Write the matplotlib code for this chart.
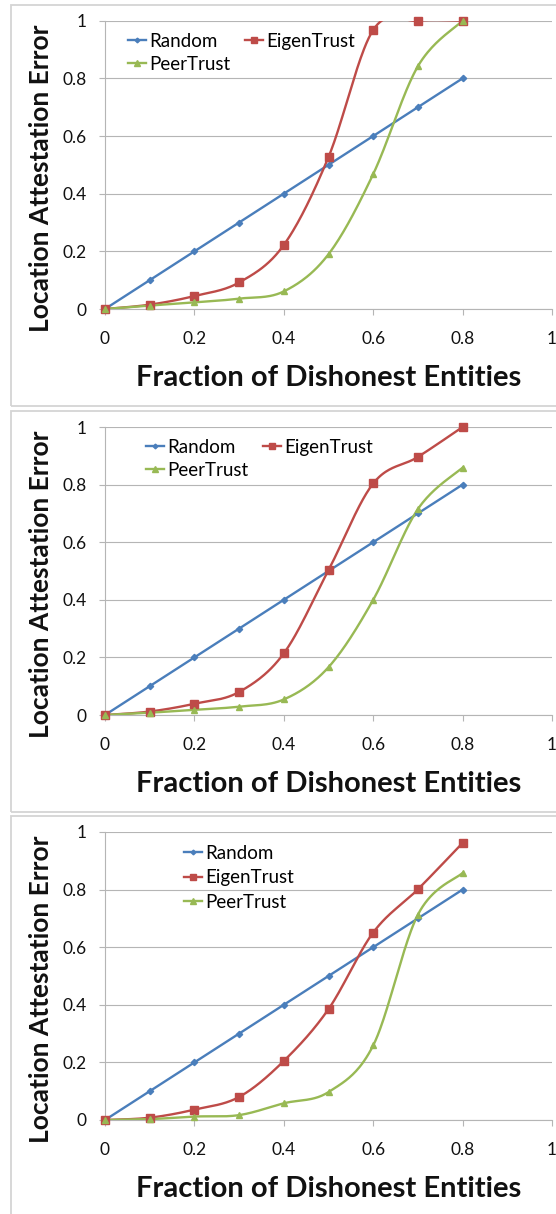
import numpy as np
import matplotlib
matplotlib.use('Agg')
import matplotlib.pyplot as plt
from matplotlib.patches import Rectangle
from matplotlib.lines import Line2D

# fraction of dishonest entities
frac = [0, 0.1, 0.2, 0.3, 0.4, 0.5, 0.6, 0.7, 0.8]

# location attestation error, one list per scenario
random_err = [0, 0.1, 0.2, 0.3, 0.4, 0.5, 0.6, 0.7, 0.8]

eigen_a = [0, 0.015, 0.045, 0.092, 0.222, 0.527, 0.968, 1.0, 1.0]
peer_a  = [0, 0.012, 0.023, 0.036, 0.061, 0.19, 0.468, 0.842, 1.0]

eigen_b = [0, 0.012, 0.039, 0.08, 0.214, 0.503, 0.804, 0.896, 1.0]
peer_b  = [0, 0.008, 0.018, 0.029, 0.054, 0.166, 0.4, 0.715, 0.859]

eigen_c = [0, 0.008, 0.036, 0.08, 0.205, 0.385, 0.651, 0.801, 0.962]
peer_c  = [0, 0.003, 0.012, 0.017, 0.058, 0.097, 0.259, 0.713, 0.858]

x_ticks = [0, 0.2, 0.4, 0.6, 0.8, 1]
y_ticks = [0, 0.2, 0.4, 0.6, 0.8, 1]

W, H = 556, 1214
plt.rcParams['font.family'] = ['Lato', 'DejaVu Sans']

BLUE, RED, GREEN = '#4a7ebb', '#be4b48', '#98b954'
GRID = '#b5b5b5'


def smooth(x, y, n=40):
    # excel style smoothed line: bezier segments through every point
    p = np.column_stack([x, y]).astype(float)
    q = np.vstack([p[0], p, p[-1]])
    t = np.linspace(0, 1, n)[:, None]
    out = []
    for i in range(len(p) - 1):
        p0, p1, p2, p3 = q[i], q[i + 1], q[i + 2], q[i + 3]
        c1 = p1 + (p2 - p0) / 6
        c2 = p2 - (p3 - p1) / 6
        seg = (1 - t)**3 * p1 + 3 * (1 - t)**2 * t * c1 + 3 * (1 - t) * t**2 * c2 + t**3 * p2
        out.append(seg if i == 0 else seg[1:])
    s = np.vstack(out)
    return s[:, 0], s[:, 1]


def fx(px):
    return px / W


def fy(py):
    return 1 - py / H


fig = plt.figure(figsize=(W / 100, H / 100), dpi=100)

panels = [
    dict(top=20.7, bot=309, frame=(5, 406), eig=eigen_a, peer=peer_a,
         leg_x=128, leg_y=44, ncol=2),
    dict(top=427, bot=715, frame=(411, 812), eig=eigen_b, peer=peer_b,
         leg_x=146, leg_y=450, ncol=2),
    dict(top=832, bot=1120, frame=(816, 1240), eig=eigen_c, peer=peer_c,
         leg_x=184, leg_y=856, ncol=1),
]

left, right = 105, 552

for p in panels:
    ftop, fbot = p['frame']
    fig.patches.append(Rectangle((fx(10.6), fy(fbot)), fx(700), fy(ftop) - fy(fbot),
                                 transform=fig.transFigure, fill=False,
                                 edgecolor='#d4d4d4', linewidth=1.3))

    ax = fig.add_axes([fx(left), fy(p['bot']), fx(right - left), fy(p['top']) - fy(p['bot'])])
    ax.set_xlim(0, 1)
    ax.set_ylim(0, 1)
    ax.set_xticks(x_ticks)
    ax.set_yticks(y_ticks)
    ax.set_xticklabels(['%g' % v for v in x_ticks])
    ax.set_yticklabels(['%g' % v for v in y_ticks])
    ax.tick_params(axis='x', direction='out', length=4, width=0.8, color=GRID,
                   pad=12, labelsize=12.5, labelcolor='#111111')
    ax.tick_params(axis='y', direction='out', length=4, width=0.8, color=GRID,
                   pad=9, labelsize=12.5, labelcolor='#111111')
    for s in ['top', 'right']:
        ax.spines[s].set_visible(False)
    for s in ['left', 'bottom']:
        ax.spines[s].set_color(GRID)
        ax.spines[s].set_linewidth(0.8)
    ax.grid(axis='y', color=GRID, linewidth=0.8)
    ax.set_axisbelow(True)

    series = [
        (random_err, BLUE, 'D', 3.2, 'Random'),
        (p['eig'], RED, 's', 5.2, 'EigenTrust'),
        (p['peer'], GREEN, '^', 5.0, 'PeerTrust'),
    ]
    handles = []
    for vals, col, mk, ms, name in series:
        sx, sy = smooth(frac, vals)
        ax.plot(sx, sy, color=col, linewidth=1.7, zorder=3)
        ax.plot(frac, vals, linestyle='none', marker=mk, markersize=ms,
                color=col, clip_on=False, zorder=4)
        handles.append(Line2D([], [], color=col, linewidth=1.7, marker=mk, markersize=ms - 0.8))

    if p['ncol'] == 2:
        order = [handles[0], handles[2], handles[1]]
        labels = ['Random', 'PeerTrust', 'EigenTrust']
        spacing = 0.3
    else:
        order = handles
        labels = ['Random', 'EigenTrust', 'PeerTrust']
        spacing = 0.4
    ax.legend(order, labels, ncol=p['ncol'], loc='upper left',
              bbox_to_anchor=(fx(p['leg_x']), fy(p['leg_y'] - 11)),
              bbox_transform=fig.transFigure, frameon=False, fontsize=13.5,
              borderpad=0, borderaxespad=0, handlelength=0.95, handletextpad=0.2,
              columnspacing=0.75, labelspacing=spacing, numpoints=1)

    mid_y = p['bot'] - 130.5
    fig.text(fx(40.7), fy(mid_y), 'Location Attestation Error', rotation=90,
             ha='center', va='center', fontsize=19, fontweight='bold', color='#111111')
    fig.text(fx((left + right) / 2), fy(p['bot'] + 69), 'Fraction of Dishonest Entities',
             ha='center', va='center', fontsize=21, fontweight='bold', color='#111111')

fig.savefig('out.png', dpi=100, facecolor='white')
